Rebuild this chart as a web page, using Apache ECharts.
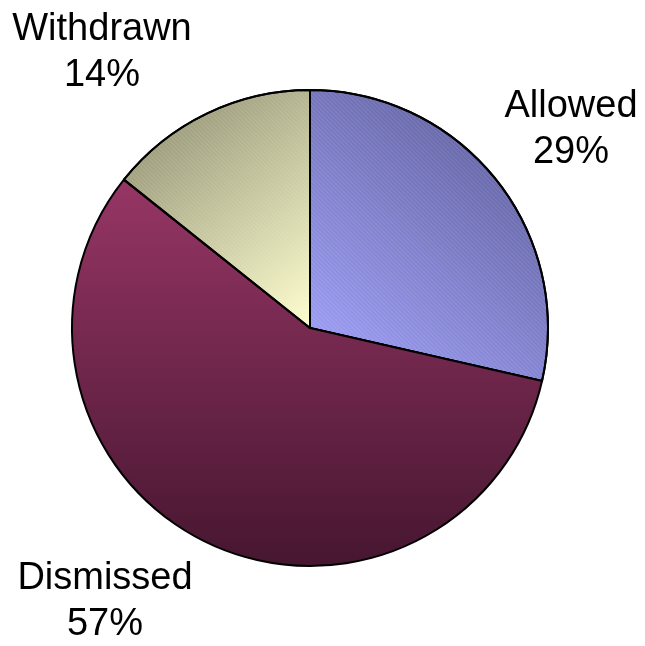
<!DOCTYPE html>
<html>
<head>
<meta charset="utf-8">
<script src="https://cdn.jsdelivr.net/npm/echarts@6/dist/echarts.min.js"></script>
<style>
  html, body { margin: 0; padding: 0; background: #fff; }
  #main { width: 645px; height: 646px; }
</style>
</head>
<body>
<div id="main"></div>
<script>
// data
var categories = ['Allowed', 'Dismissed', 'Withdrawn'];
var counts = [2, 4, 1];

// label spots (center of each two-line label)
var labelSpots = [[571, 130], [105, 602], [102, 53]];

function grad(x, y, x2, y2, c1, c2) {
    return new echarts.graphic.LinearGradient(x, y, x2, y2, [
        { offset: 0, color: c1 },
        { offset: 1, color: c2 }
    ]);
}

var fills = [
    grad(1, 0, 0, 1, '#55558f', '#a4a4ff'),
    grad(0, 0, 0, 1, '#973665', '#461630'),
    grad(0, 0, 1, 1, '#86866a', '#ffffcf')
];

var hatch = {
    color: 'rgba(255,255,255,0.1)',
    symbol: 'rect',
    symbolSize: 1,
    dashArrayX: [1, 0],
    dashArrayY: [1, 2],
    rotation: Math.PI / 4
};

var myChart = echarts.init(document.getElementById('main'));

var option = {
    animation: false,
    series: [{
        type: 'pie',
        center: [310, 328],
        radius: 238,
        startAngle: 90,
        clockwise: true,
        percentPrecision: 0,
        data: categories.map(function (name, i) {
            return {
                name: name,
                value: counts[i],
                itemStyle: {
                    color: fills[i],
                    decal: i === 1 ? null : hatch
                }
            };
        }),
        itemStyle: {
            borderColor: '#000',
            borderWidth: 2
        },
        label: {
            show: true,
            position: 'outside',
            formatter: '{b}\n{d}%',
            fontFamily: 'Liberation Sans, Arial, sans-serif',
            fontSize: 38,
            lineHeight: 46,
            color: '#000',
            align: 'center',
            overflow: 'none',
            width: 300
        },
        labelLine: { show: false },
        labelLayout: function (params) {
            var p = labelSpots[params.dataIndex];
            return {
                x: p[0],
                y: p[1],
                align: 'center',
                verticalAlign: 'middle',
                hideOverlap: false
            };
        },
        emphasis: { disabled: true }
    }]
};

myChart.setOption(option);
</script>
</body>
</html>
